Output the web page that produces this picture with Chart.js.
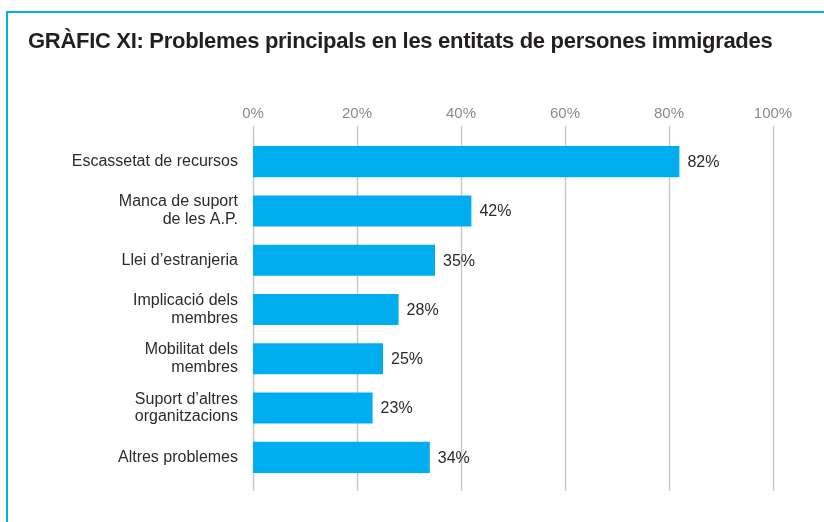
<!DOCTYPE html>
<html>
<head>
<meta charset="utf-8">
<script src="https://cdn.jsdelivr.net/npm/chart.js@4/dist/chart.umd.min.js"></script>
<style>
  html, body { margin: 0; padding: 0; background: #fff; overflow: hidden; }
  #frame { position: absolute; left: 6px; top: 11px; width: 900px; height: 600px;
           border-left: 2px solid #00aeef; border-top: 2px solid #00aeef; }
  #title { position: absolute; left: 28px; top: 28px; margin: 0; letter-spacing: -0.3px;
           font: bold 22px "Liberation Sans", Arial, sans-serif; color: #231f20; white-space: nowrap; }
  #wrap { position: absolute; left: 0; top: 0; width: 824px; height: 522px; }
</style>
</head>
<body>
<div id="frame"></div>
<div id="wrap"><canvas id="chart"></canvas></div>
<h1 id="title">GRÀFIC XI: Problemes principals en les entitats de persones immigrades</h1>
<script>
var categories = [
  'Escassetat de recursos',
  ['Manca de suport', 'de les A.P.'],
  'Llei d\u2019estranjeria',
  ['Implicació dels', 'membres'],
  ['Mobilitat dels', 'membres'],
  ['Suport d\u2019altres', 'organitzacions'],
  'Altres problemes'
];
var values = [82, 42, 35, 28, 25, 23, 34];
var tickValues = [0, 20, 40, 60, 80, 100];

// vertical grid lines that run a little past the plot area
var gridLines = {
  id: 'gridLines',
  beforeDatasetsDraw: function (chart) {
    var ctx = chart.ctx, area = chart.chartArea, xs = chart.scales.x;
    ctx.save();
    ctx.strokeStyle = '#c8c8c8';
    ctx.lineWidth = 1.4;
    tickValues.forEach(function (v) {
      var px = Math.round(xs.getPixelForValue(v)) + 0.5;
      ctx.beginPath();
      ctx.moveTo(px, area.top - 11);
      ctx.lineTo(px, area.bottom + 9);
      ctx.stroke();
    });
    ctx.restore();
  }
};

// value labels at the end of each bar
var barLabels = {
  id: 'barLabels',
  afterDatasetsDraw: function (chart) {
    var ctx = chart.ctx;
    var meta = chart.getDatasetMeta(0);
    ctx.save();
    ctx.font = '16px "Liberation Sans", Arial, sans-serif';
    ctx.fillStyle = '#2b2b2b';
    ctx.textAlign = 'left';
    ctx.textBaseline = 'middle';
    meta.data.forEach(function (bar, i) {
      ctx.fillText(values[i] + '%', bar.x + 8, bar.y + 1);
    });
    ctx.restore();
  }
};

new Chart(document.getElementById('chart'), {
  type: 'bar',
  data: {
    labels: categories,
    datasets: [{
      data: values,
      backgroundColor: '#00aeef',
      borderWidth: 0,
      barPercentage: 0.63,
      categoryPercentage: 1
    }]
  },
  options: {
    indexAxis: 'y',
    responsive: true,
    maintainAspectRatio: false,
    animation: false,
    layout: { padding: { left: 0, right: 51, top: 0, bottom: 40 } },
    plugins: {
      legend: { display: false },
      tooltip: { enabled: false }
    },
    scales: {
      x: {
        position: 'top',
        min: 0,
        max: 100,
        afterBuildTicks: function (s) { s.ticks = tickValues.map(function (v) { return { value: v }; }); },
        afterFit: function (s) { s.height = 137; },
        grid: { display: false, drawTicks: false, tickLength: 0 },
        border: { display: false },
        ticks: {
          padding: 14,
          color: '#8a8a8a',
          font: { family: '"Liberation Sans", Arial, sans-serif', size: 15 },
          maxRotation: 0,
          callback: function (v) { return v + '%'; }
        }
      },
      y: {
        afterFit: function (s) { s.width = 253; },
        grid: { display: false, drawTicks: false },
        border: { display: false },
        ticks: {
          padding: 15,
          color: '#2b2b2b',
          font: { family: '"Liberation Sans", Arial, sans-serif', size: 16, lineHeight: 1.12 }
        }
      }
    }
  },
  plugins: [gridLines, barLabels]
});
</script>
</body>
</html>
